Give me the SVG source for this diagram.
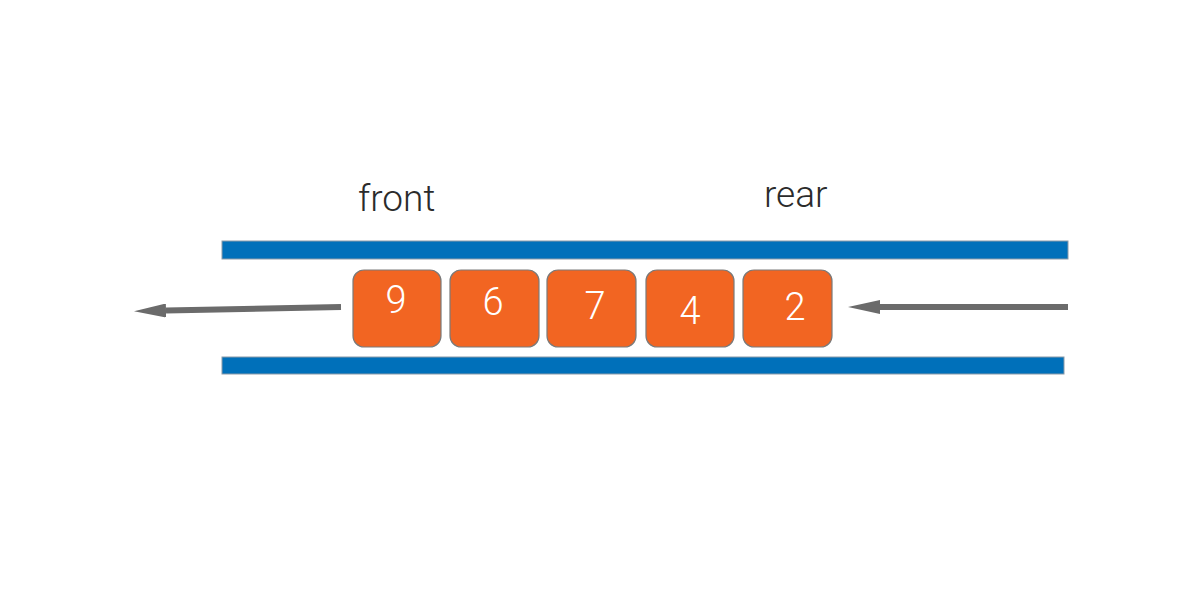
<svg xmlns="http://www.w3.org/2000/svg" width="1200" height="600" viewBox="0 0 1200 600">
<style>
.bar{fill:#0070BA;stroke:#8a9aa8;stroke-width:1}
.box{fill:#F26522;stroke:#7a7a7a;stroke-width:1.2}
.num{font-family:Roboto,"Liberation Sans",Arial,sans-serif;font-weight:300;font-size:38px;fill:#ffffff;text-anchor:middle}
.lbl{font-family:Roboto,"Liberation Sans",Arial,sans-serif;font-weight:300;font-size:37px;fill:#2b2b2b}
.conn{stroke:#6b6b6b;stroke-width:6;fill:none}
</style>
<defs>
<marker id="ah" viewBox="0 0 32 14" refX="0" refY="7" markerWidth="32" markerHeight="14" markerUnits="userSpaceOnUse" orient="auto">
<path d="M0,0 L32,7 L0,14 Z" fill="#6b6b6b"/>
</marker>
</defs>
<rect width="1200" height="600" fill="#ffffff"/>
<g id="walls">
<rect class="bar" x="222" y="241" width="846" height="18"/>
<rect class="bar" x="222" y="357" width="842" height="17"/>
</g>
<g id="labels">
<text class="lbl" x="358" y="211">front</text>
<text class="lbl" x="764" y="207">rear</text>
</g>
<g id="node-9"><rect class="box" x="353" y="270" width="88" height="77" rx="11"/><text class="num" x="396" y="313">9</text></g>
<g id="node-6"><rect class="box" x="450" y="270" width="89" height="77" rx="11"/><text class="num" x="493" y="315">6</text></g>
<g id="node-7"><rect class="box" x="547" y="270" width="89" height="77" rx="11"/><text class="num" x="595" y="319">7</text></g>
<g id="node-4"><rect class="box" x="646" y="270" width="88" height="77" rx="11"/><text class="num" x="690" y="324">4</text></g>
<g id="node-2"><rect class="box" x="743" y="270" width="89" height="77" rx="11"/><text class="num" x="795" y="320">2</text></g>
<g id="connectors">
<line class="conn" x1="341" y1="307" x2="166" y2="310.5" marker-end="url(#ah)"/>
<line class="conn" x1="1068" y1="307" x2="880" y2="307" marker-end="url(#ah)"/>
</g>
</svg>
